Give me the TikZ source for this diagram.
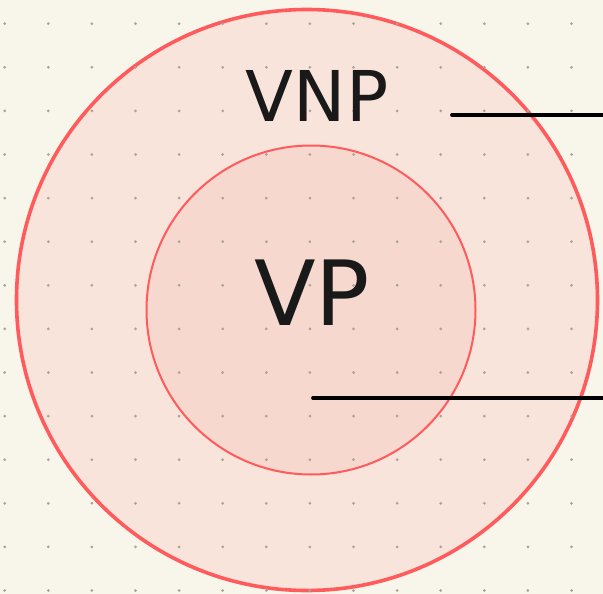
\documentclass[tikz,border=0pt]{standalone}
\usepackage{fontspec}
\setmainfont{DejaVu Sans}
\usetikzlibrary{positioning}
\definecolor{paper}{HTML}{F8F5EA}
\definecolor{ring}{HTML}{FF5A5C}
\definecolor{outerfill}{HTML}{F8E4DA}
\definecolor{innerfill}{HTML}{F6D8CE}
\definecolor{griddot}{HTML}{A8A39B}

\begin{document}
\begin{tikzpicture}[x=1pt, y=-1pt,
  setcircle/.style={circle, draw=ring, inner sep=0pt},
  label/.style={font=\fontsize{#1}{#1}\selectfont, text=black!90, inner sep=0pt},
  pointer/.style={draw=black, line width=3.8pt, line cap=round}]
  \fill[paper] (0,0) rectangle (603,594);
  \useasboundingbox (0,0) rectangle (603,594);
  \node[setcircle, fill=outerfill, line width=3.6pt, minimum size=581pt] (vnp) at (307,300) {};
  \node[setcircle, fill=innerfill, line width=2pt, minimum size=329pt] (vp) at (311,310) {};
  % dotted grid on top of the fills
  \foreach \i in {0,...,13}
    \foreach \j in {0,...,13}
      \fill[griddot] (4.7+43.6*\i, 23.7+43.6*\j) circle (1.5pt);
  \node[label=70] (vnptext) at (317,96) {VNP};
  \node[label=90] (vptext) at (312,293) {VP};
  \coordinate (vnpstart) at (452,115);
  \coordinate (vnpend) at (608,115);
  \coordinate (vpstart) at (313,398);
  \coordinate (vpend) at (608,398);
  \draw[pointer] (vnpstart) -- (vnpend);
  \draw[pointer] (vpstart) -- (vpend);
\end{tikzpicture}
\end{document}
